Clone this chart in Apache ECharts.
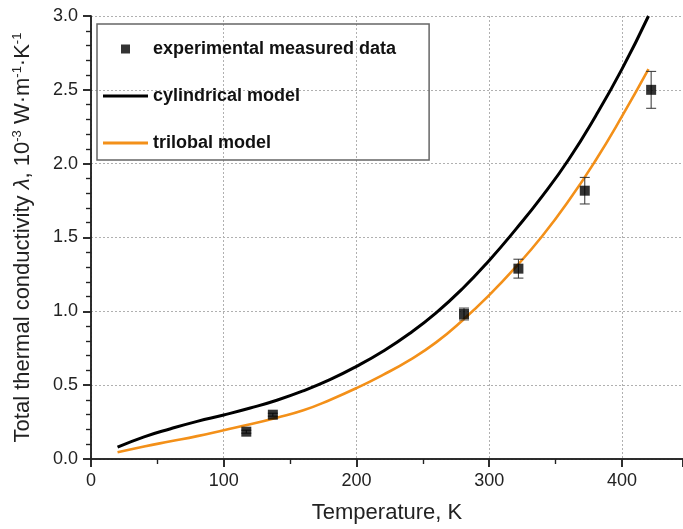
<!DOCTYPE html>
<html><head><meta charset="utf-8">
<script src="https://cdn.jsdelivr.net/npm/echarts@6/dist/echarts.min.js"></script>
<style>html,body{margin:0;padding:0;background:#fff}#c{width:683px;height:529px}</style>
</head><body><div id="c"></div>
<script>
var modelT = [20,40,60,80,100,120,140,160,180,200,220,240,260,280,300,320,340,360,380,400,420];
var cylindrical = [0.08,0.15,0.205,0.255,0.298,0.345,0.398,0.462,0.537,0.627,0.73,0.85,0.99,1.155,1.345,1.555,1.78,2.03,2.32,2.64,3.0];
var trilobal = [0.045,0.085,0.12,0.155,0.195,0.235,0.28,0.33,0.40,0.48,0.57,0.67,0.79,0.94,1.11,1.30,1.51,1.75,2.02,2.32,2.64];
var expT = [117,137,281,322,372,422];
var expVal = [0.185,0.30,0.982,1.289,1.817,2.50];
var expErr = [0.01,0.01,0.04,0.064,0.09,0.125];
var xTicks = [0,100,200,300,400];
var yTicks = ['0.0','0.5','1.0','1.5','2.0','2.5','3.0'];

function pairs(xs, ys){ return xs.map(function(x,i){return [x, ys[i]];}); }
var expData = expT.map(function(t,i){return [t, expVal[i], expErr[i]];});

var FONT = 'Liberation Sans, Arial, sans-serif';
var chart = echarts.init(document.getElementById('c'), null, {renderer:'canvas'});
var axisCol = '#222';
chart.setOption({
  animation:false,
  grid:{left:91, top:16, right:0, bottom:70, containLabel:false, outerBoundsMode:'none'},
  legend:{
    orient:'vertical', left:97, top:24,
    padding:[16,33,8,6],
    borderColor:'#666', borderWidth:1.5,
    itemWidth:45, itemHeight:9, itemGap:29,
    textStyle:{fontFamily:FONT, fontWeight:'bold', fontSize:18, color:'#111'},
    data:[
      {name:'experimental measured data', icon:'path://M0,0L10,0L10,10L0,10Z'},
      {name:'cylindrical model', icon:'path://M0,0L45,0L45,3L0,3Z'},
      {name:'trilobal model', icon:'path://M0,0L45,0L45,3L0,3Z'}
    ]
  },
  xAxis:[{
    type:'value', min:0, max:446, interval:100,
    name:'Temperature, K', nameLocation:'middle', nameGap:43,
    nameTextStyle:{fontFamily:FONT, fontSize:22, color:axisCol},
    axisLine:{lineStyle:{color:axisCol, width:1.5}},
    axisTick:{inside:false, length:8, lineStyle:{color:axisCol, width:1.5}},
    minorTick:{show:true, splitNumber:2, length:5, lineStyle:{color:axisCol, width:1.2}},
    axisLabel:{margin:13, fontFamily:FONT, fontSize:18, color:axisCol, showMaxLabel:false,
      formatter:function(v){ return xTicks.indexOf(v)>=0 ? String(v) : ''; }},
    splitLine:{show:true, lineStyle:{type:[2,2], color:'#b0b0b0', width:1}}
  },{
    type:'value', min:0, max:446, interval:100, position:'top',
    axisLine:{show:true, lineStyle:{color:axisCol, width:1.5}},
    axisTick:{inside:true, length:8, lineStyle:{color:axisCol, width:1.5}},
    minorTick:{show:true, splitNumber:2, length:5, lineStyle:{color:axisCol, width:1.2}},
    axisLabel:{show:false}, splitLine:{show:false}
  }],
  yAxis:[{
    type:'value', min:0, max:3, interval:0.5,
    name:'Total thermal conductivity {i|λ}, 10{sup|-3} W·m{sup|-1}·K{sup|-1}',
    nameLocation:'middle', nameGap:57,
    nameTextStyle:{fontFamily:FONT, fontSize:22, color:axisCol,
      rich:{i:{fontFamily:FONT, fontSize:22, fontStyle:'italic', color:axisCol},
            sup:{fontFamily:FONT, fontSize:13, verticalAlign:'top', padding:[0,0,10,0], color:axisCol}}},
    axisLine:{lineStyle:{color:axisCol, width:1.5}},
    axisTick:{inside:false, length:8, lineStyle:{color:axisCol, width:1.5}},
    minorTick:{show:true, splitNumber:5, length:5, lineStyle:{color:axisCol, width:1.2}},
    axisLabel:{margin:13, fontFamily:FONT, fontSize:18, color:axisCol,
      formatter:function(v){ return yTicks[Math.round(v*2)]; }},
    splitLine:{show:true, lineStyle:{type:[2,2], color:'#b0b0b0', width:1}}
  },{
    type:'value', min:0, max:3, interval:0.5, position:'right',
    axisLine:{show:true, lineStyle:{color:axisCol, width:1.5}},
    axisTick:{show:true, inside:true, length:8, lineStyle:{color:axisCol, width:1.5}},
    minorTick:{show:true, splitNumber:5, length:5, lineStyle:{color:axisCol, width:1.2}},
    axisLabel:{show:false}, splitLine:{show:false}
  }],
  series:[
    {name:'cylindrical model', type:'line', smooth:0.5, symbol:'none', clip:true,
     data:pairs(modelT, cylindrical), lineStyle:{color:'#000', width:3}, itemStyle:{color:'#000'}, z:3},
    {name:'trilobal model', type:'line', smooth:0.5, symbol:'none', clip:true,
     data:pairs(modelT, trilobal), lineStyle:{color:'#f39019', width:2.6}, itemStyle:{color:'#f39019'}, z:3},
    {name:'experimental measured data', type:'scatter', symbol:'rect', symbolSize:10,
     data:expData.map(function(d){return [d[0],d[1]];}), itemStyle:{color:'#000'}, z:5},
    {name:'errorbars', type:'custom', z:4,
     data:expData,
     renderItem:function(params, api){
       var x=api.value(0), y=api.value(1), e=api.value(2);
       var a=api.coord([x,y+e]), b=api.coord([x,y-e]);
       var w=5;
       var st={stroke:'#333', lineWidth:1};
       return {type:'group', children:[
         {type:'line', shape:{x1:a[0],y1:a[1],x2:b[0],y2:b[1]}, style:st},
         {type:'line', shape:{x1:a[0]-w,y1:a[1],x2:a[0]+w,y2:a[1]}, style:st},
         {type:'line', shape:{x1:b[0]-w,y1:b[1],x2:b[0]+w,y2:b[1]}, style:st}
       ]};
     }}
  ]
});
</script></body></html>
